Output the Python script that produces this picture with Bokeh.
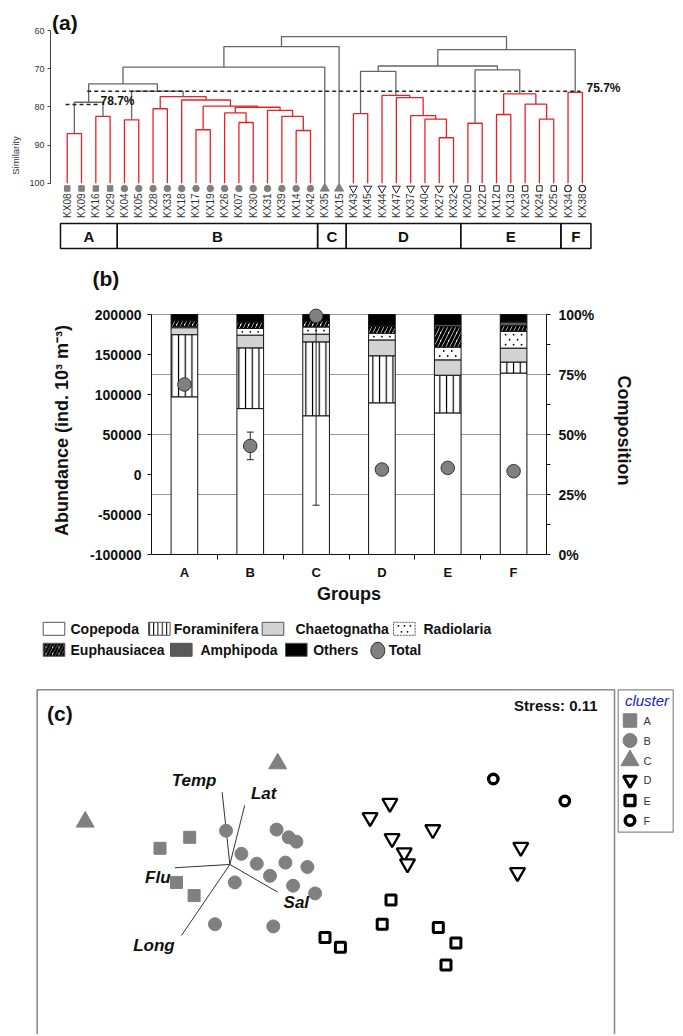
import numpy as np
from bokeh.plotting import figure
from bokeh.models import Range1d, LinearAxis, FixedTicker, NumeralTickFormatter, PrintfTickFormatter
from bokeh.layouts import column
from bokeh.embed import file_html
from bokeh.resources import INLINE
from bokeh.core.properties import value

FONT = "Liberation Sans"
RED = "#ec2024"
DGRAY = "#666666"
MGRAY = "#808080"
W = 680

# ------------------------------------------------------------------ data (a)
leaf_names = ["KX08", "KX09", "KX16", "KX29", "KX04", "KX05", "KX28", "KX33", "KX18",
              "KX17", "KX19", "KX26", "KX07", "KX30", "KX31", "KX39", "KX14", "KX42",
              "KX35", "KX15", "KX43", "KX45", "KX44", "KX47", "KX37", "KX40", "KX27",
              "KX32", "KX20", "KX22", "KX12", "KX13", "KX23", "KX24", "KX25", "KX34", "KX38"]
leaf_groups = list("AAAA" + "B" * 14 + "CC" + "D" * 8 + "E" * 7 + "FF")
# merges: node ids < 37 are leaves, 37+k is the k-th merge
merge_left = [0, 2, 37, 4, 6, 9, 12, 11, 16, 15, 14, 44, 42, 8, 41, 40, 39, 53, 54,
              20, 26, 25, 24, 23, 22, 56, 28, 30, 33, 32, 64, 63, 62, 35, 69, 55]
merge_right = [1, 3, 38, 5, 7, 10, 13, 43, 17, 45, 46, 47, 48, 49, 50, 51, 52, 18, 19,
               21, 27, 57, 58, 59, 60, 61, 29, 31, 34, 65, 66, 67, 68, 36, 70, 71]
merge_sim = [87.0, 82.5, 78.8, 83.4, 80.5, 86.0, 84.1, 81.6, 86.2, 82.5, 80.9, 80.1,
             79.8, 78.2, 77.3, 75.9, 74.0, 69.6, 64.2, 81.8, 88.1, 83.2, 82.3, 77.6,
             77.0, 70.7, 84.3, 82.0, 83.2, 79.3, 76.6, 70.3, 69.3, 76.2, 65.0, 61.6]
merge_within = [1, 1, 0, 1, 1, 1, 1, 1, 1, 1, 1, 1, 1, 1, 1, 0, 0, 0, 0,
                1, 1, 1, 1, 1, 1, 0, 1, 1, 1, 1, 1, 0, 0, 1, 0, 0]
cut_levels = [79.4, 75.9]
cut_labels = ["78.7%", "75.7%"]
sim_ticks = [60, 70, 80, 90, 100]

# ------------------------------------------------------------------ data (b)
groups = ["A", "B", "C", "D", "E", "F"]
taxa = ["Copepoda", "Foraminifera", "Chaetognatha", "Radiolaria",
        "Euphausiacea", "Amphipoda", "Others"]
comp_copepoda = [65.7, 60.8, 57.8, 63.2, 59.0, 75.6]
comp_foraminifera = [25.9, 25.3, 30.8, 19.6, 15.7, 4.6]
comp_chaetognatha = [2.9, 5.3, 3.2, 6.6, 6.4, 5.8]
comp_radiolaria = [0.6, 2.8, 3.0, 2.8, 5.3, 7.0]
comp_euphausiacea = [2.3, 2.5, 2.6, 2.9, 8.5, 2.3]
comp_amphipoda = [0.2, 0.2, 0.2, 0.4, 0.9, 1.6]
comp_others = [2.4, 3.1, 2.4, 4.5, 4.2, 3.1]
total_abundance = [112500, 35750, 198300, 6250, 8250, 4125]
total_sd = [4000, 17250, 236700, 2000, 2500, 1500]
abund_ticks = [-100000, -50000, 0, 50000, 100000, 150000, 200000]
pct_ticks = [0, 25, 50, 75, 100]
pct_minor = [12.5, 37.5, 62.5, 87.5]

# ------------------------------------------------------------------ data (c)
nmds_A_x = [-1.28, -1.55, -1.40, -1.24]
nmds_A_y = [0.12, 0.02, -0.29, -0.41]
nmds_B_x = [-0.95, -0.49, -0.38, -0.31, -0.81, -0.67, -0.41, -0.21, -0.55, -0.87,
            -0.34, -0.14, -1.05, -0.52]
nmds_B_y = [0.18, 0.19, 0.12, 0.08, -0.03, -0.12, -0.11, -0.15, -0.23, -0.29,
            -0.32, -0.39, -0.67, -0.69]
nmds_C_x = [-0.48, -2.23]
nmds_C_y = [0.79, 0.26]
nmds_D_x = [0.54, 0.36, 0.93, 0.56, 0.67, 0.70, 1.73, 1.70]
nmds_D_y = [0.43, 0.30, 0.19, 0.11, -0.02, -0.12, 0.03, -0.20]
nmds_E_x = [0.55, 0.47, 0.98, 1.14, 1.05, -0.05, 0.09]
nmds_E_y = [-0.45, -0.67, -0.70, -0.84, -1.04, -0.79, -0.88]
nmds_F_x = [1.48, 2.13]
nmds_F_y = [0.65, 0.45]
env_vars = ["Temp", "Lat", "Flu", "Sal", "Long"]
env_origin_x = -0.915
env_origin_y = -0.127
env_end_x = [-0.985, -0.78, -1.415, -0.479, -1.355]
env_end_y = [0.53, 0.41, -0.157, -0.379, -0.773]
stress_value = 0.11

# ================================================================== panel (a)
X0, PXU = 66.7, 14.31      # page px of first leaf, px per leaf
SY = 3.8175                # px per similarity unit, 60 at page y 30


def ax(px):
    return (px - X0) / PXU


def ay(py):
    return 60 + (py - 30) / SY


pa = figure(width=W, height=300, output_backend="svg", toolbar_location=None,
            x_range=Range1d(ax(50), ax(670)), y_range=Range1d(ay(300), ay(10)),
            x_axis_location=None, min_border_left=50, min_border_right=W - 670,
            min_border_top=10, min_border_bottom=0, frame_align=False)
pa.grid.visible = False
pa.outline_line_color = None
ya = pa.yaxis[0]
ya.ticker = FixedTicker(ticks=sim_ticks)
ya.bounds = (60, 100)
ya.axis_label = "Similarity"
ya.axis_label_text_font = FONT
ya.axis_label_text_font_size = "9.5px"
ya.axis_label_text_font_style = "normal"
ya.axis_label_text_color = "#333333"
ya.axis_label_standoff = 5
ya.major_label_text_font = FONT
ya.major_label_text_font_size = "9px"
ya.major_label_text_color = "#333333"
ya.major_label_standoff = 3
ya.major_tick_out = 3
ya.major_tick_in = 0
ya.axis_line_color = "#444444"
ya.major_tick_line_color = "#444444"

n = len(leaf_names)
node_x = list(range(n))
node_h = [100.0] * n
xs, ys, cols = [], [], []
for l, r, s, w in zip(merge_left, merge_right, merge_sim, merge_within):
    x1, x2 = node_x[l], node_x[r]
    h1, h2 = node_h[l], node_h[r]
    xs.append([x1, x1, x2, x2])
    ys.append([h1, s, s, h2])
    cols.append(RED if w else DGRAY)
    node_x.append((x1 + x2) / 2)
    node_h.append(s)
pa.multi_line(xs=xs, ys=ys, line_color=cols, line_width=1.3)

# cut lines
pa.segment(x0=[ax(65), ax(86.7)], x1=[ax(100), ax(580)], y0=cut_levels, y1=cut_levels,
           line_color="#222222", line_width=1.5, line_dash="4 3")
pa.text(x=[ax(100), ax(586)], y=[ay(100.5), ay(87.3)], text=cut_labels,
        text_font=value(FONT), text_font_style="bold", text_font_size="12px",
        text_baseline="middle", text_align="left", text_color="#111111")

leaf_style = {
    "A": dict(marker="square", size=5.5, fill_color=MGRAY, line_color=MGRAY),
    "B": dict(marker="circle", size=6.5, fill_color=MGRAY, line_color=MGRAY),
    "C": dict(marker="triangle", size=9, fill_color=MGRAY, line_color=MGRAY),
    "D": dict(marker="inverted_triangle", size=8, fill_color="white", line_color="#222222", line_width=1),
    "E": dict(marker="square", size=5.5, fill_color="white", line_color="#222222", line_width=1),
    "F": dict(marker="circle", size=6.5, fill_color="white", line_color="#222222", line_width=1.2),
}
leaf_idx = np.arange(n)
lg = np.array(leaf_groups)
for g in groups:
    sel = leaf_idx[lg == g]
    pa.scatter(x=sel, y=[ay(188)] * len(sel), **leaf_style[g])

pa.text(x=leaf_idx, y=[ay(193)] * n, text=leaf_names, angle=np.pi / 2,
        text_align="right", text_baseline="middle", text_font=value(FONT),
        text_font_size="10px", text_color="#333333")

counts = [leaf_groups.count(g) for g in groups]
edges = np.concatenate([[0], np.cumsum(counts)]) - 0.5
edges[0] = -0.47
edges[-1] = n - 1 + 0.6
pa.quad(left=edges[:-1], right=edges[1:], top=[ay(223)] * 6, bottom=[ay(248)] * 6,
        fill_color=None, line_color="#111111", line_width=1.5)
pa.text(x=(edges[:-1] + edges[1:]) / 2, y=[ay(236)] * 6, text=groups,
        text_align="center", text_baseline="middle", text_font=value(FONT),
        text_font_style="bold", text_font_size="15px", text_color="#111111")

pa.text(x=[ax(51.5), ax(92)], y=[ay(21.5), ay(278)], text=["(a)", "(b)"],
        text_align="left", text_baseline="middle", text_font=value(FONT),
        text_font_style="bold", text_font_size="21px", text_color="#111111")

# ================================================================== panel (b)
PX_PER_ABUND = 240 / 300000.0     # frame px per abundance unit
EXTRA = 8                          # px of head-room above the 100 % line
ab_max = abund_ticks[-1] + EXTRA / PX_PER_ABUND
pct_max = 100 + EXTRA / 2.4
pb = figure(width=W, height=314, output_backend="svg", toolbar_location=None,
            x_range=Range1d(0, 6), y_range=Range1d(abund_ticks[0], ab_max),
            min_border_left=151, min_border_right=W - 151 - 395, min_border_top=14 - EXTRA,
            min_border_bottom=60, frame_align=False)
pb.extra_y_ranges = {"pct": Range1d(0, pct_max)}
pb.outline_line_color = None
pb.xgrid.visible = False
pb.ygrid.ticker = FixedTicker(ticks=[-25000, 50000, 125000, 200000])
pb.ygrid.grid_line_color = "#9a9a9a"
pb.ygrid.grid_line_width = 1

yl = pb.yaxis[0]
yl.ticker = FixedTicker(ticks=abund_ticks)
yl.formatter = NumeralTickFormatter(format="0")
yl.axis_label = "Abundance (ind. 10\u00b3 m\u207b\u00b3)"
yl.bounds = (abund_ticks[0], abund_ticks[-1])

yr = LinearAxis(y_range_name="pct",
                ticker=FixedTicker(ticks=pct_ticks, minor_ticks=pct_minor),
                formatter=PrintfTickFormatter(format="%d%%"),
                axis_label="Composition", bounds=(0, 100))
pb.add_layout(yr, "right")

xa = pb.xaxis[0]
centers = np.arange(len(groups)) + 0.5
xa.ticker = FixedTicker(ticks=list(centers), minor_ticks=list(np.arange(1, len(groups))))
xa.major_label_overrides = {float(c): g for c, g in zip(centers, groups)}
xa.axis_label = "Groups"
xa.major_tick_out = 0
xa.major_tick_in = 0
xa.minor_tick_out = 5
xa.minor_tick_in = 0
xa.major_label_standoff = 5
xa.axis_label_standoff = 1

for axis in (yl, yr, xa):
    axis.axis_label_text_font = FONT
    axis.axis_label_text_font_style = "bold"
    axis.axis_label_text_font_size = "18px"
    axis.axis_label_text_color = "#111111"
    axis.major_label_text_font = FONT
    axis.major_label_text_font_style = "bold"
    axis.major_label_text_font_size = "14px"
    axis.major_label_text_color = "#111111"
    axis.axis_line_color = "#111111"
    axis.major_tick_line_color = "#111111"
    axis.minor_tick_line_color = "#111111"
xa.major_label_text_font_size = "13px"
yl.major_tick_out = 4
yl.major_tick_in = 0
yl.major_label_standoff = 6
yl.axis_label_standoff = 15
yr.major_tick_out = 4
yr.major_tick_in = 0
yr.minor_tick_out = 4
yr.minor_tick_in = 0
yr.major_label_standoff = 8
yr.axis_label_standoff = 17

taxon_style = {
    "Copepoda": dict(fill_color="white"),
    "Foraminifera": dict(fill_color="white", hatch_pattern="|", hatch_scale=6.7,
                         hatch_weight=1.2, hatch_color="black"),
    "Chaetognatha": dict(fill_color="#d3d3d3"),
    "Radiolaria": dict(fill_color="white"),
    "Euphausiacea": dict(fill_color="white", hatch_pattern="/", hatch_scale=8,
                         hatch_weight=3, hatch_color="black"),
    "Amphipoda": dict(fill_color="#595959"),
    "Others": dict(fill_color="black"),
}
comp = dict(zip(taxa, [comp_copepoda, comp_foraminifera, comp_chaetognatha,
                       comp_radiolaria, comp_euphausiacea, comp_amphipoda, comp_others]))
BAR_W = 0.405
bottom = np.zeros(len(groups))
seg_bounds = {}
for t in taxa:
    top = bottom + np.array(comp[t])
    seg_bounds[t] = (bottom.copy(), top.copy())
    pb.vbar(x=centers, width=BAR_W, bottom=bottom, top=top, y_range_name="pct",
            line_color="#111111", line_width=1, **taxon_style[t])
    bottom = top

# sparse dot texture for Radiolaria segments (fine stippling)
PX_X = 395 / 6.0      # px per category unit
ROW_PX = 5.0
dots_x, dots_y = [], []
rb, rt = seg_bounds["Radiolaria"]
for c, b, t in zip(centers, rb, rt):
    nrows = int((t - b) * 2.4 // ROW_PX)
    for k in range(nrows):
        yk = b + (k + 0.5) * ROW_PX / 2.4 + ((t - b) - nrows * ROW_PX / 2.4) / 2
        offs = [-8, 0, 8] if k % 2 == 0 else [-4, 4]
        for o in offs:
            dots_x.append(c + o / PX_X)
            dots_y.append(yk)
pb.scatter(x=dots_x, y=dots_y, y_range_name="pct", marker="circle", size=1.8,
           fill_color="black", line_color=None)

tot = np.array(total_abundance, dtype=float)
sd = np.array(total_sd, dtype=float)
upper = tot + sd
pb.segment(x0=centers, x1=centers, y0=tot - sd, y1=np.minimum(upper, abund_ticks[-1]),
           line_color="#222222", line_width=1)
cap_y = np.concatenate([tot - sd, upper[upper <= abund_ticks[-1]]])
cap_x = np.concatenate([centers, centers[upper <= abund_ticks[-1]]])
pb.scatter(x=cap_x, y=cap_y, marker="dash", size=7, line_color="#222222", line_width=1)
pb.scatter(x=centers, y=tot, size=13.5, fill_color=MGRAY, line_color="#333333", line_width=1)

# ================================================================== legend (b)
pl = figure(width=W, height=54, output_backend="svg", toolbar_location=None,
            x_range=Range1d(0, W), y_range=Range1d(668, 614), min_border=0,
            x_axis_location=None, y_axis_location=None, frame_align=False)
pl.outline_line_color = None
pl.grid.visible = False
legend_b_pos = {  # box left, text left, row centre (page px)
    "Copepoda": (42.7, 70, 628.3), "Foraminifera": (148, 173.3, 628.3),
    "Chaetognatha": (261.7, 295, 628.3), "Radiolaria": (393, 423, 628.3),
    "Euphausiacea": (42.7, 70, 649.3), "Amphipoda": (170, 200, 649.3),
    "Others": (285, 312.7, 649.3),
}
for t in taxa:
    bx, tx, cy_ = legend_b_pos[t]
    st = dict(taxon_style[t])
    if t == "Foraminifera":
        st["hatch_scale"] = 4.3
        st["hatch_weight"] = 1
    if t == "Euphausiacea":
        st["hatch_scale"] = 6.5
        st["hatch_weight"] = 2.6
    pl.quad(left=[bx], right=[bx + 21.6], top=[cy_ - 6.5], bottom=[cy_ + 6.5],
            line_color="#555555", line_width=1,
            line_dash="2 1" if t == "Radiolaria" else "solid", **st)
    if t == "Radiolaria":
        lx = [bx + 5, bx + 11, bx + 17, bx + 8, bx + 14]
        ly = [cy_ - 3, cy_ - 3, cy_ - 3, cy_ + 3, cy_ + 3]
        pl.scatter(x=lx, y=ly, marker="circle", size=1.8, fill_color="black", line_color=None)
    pl.text(x=[tx], y=[cy_ + 0.5], text=[t], text_baseline="middle", text_align="left",
            text_font=value(FONT), text_font_style="bold", text_font_size="14px",
            text_color="#111111")
pl.ellipse(x=[377.3], y=[650], width=[14], height=[16.5], fill_color=MGRAY,
           line_color="#333333", line_width=1)
pl.text(x=[388.3], y=[649.8], text=["Total"], text_baseline="middle", text_align="left",
        text_font=value(FONT), text_font_style="bold", text_font_size="14px",
        text_color="#111111")

# ================================================================== panel (c)
def cx(px):
    return (px - 330) / 110


def cy(py):
    return (850 - py) / 110


pc = figure(width=W, height=366, output_backend="svg", toolbar_location=None,
            x_range=Range1d(cx(0), cx(W)), y_range=Range1d(cy(1034), cy(668)),
            min_border=0, x_axis_location=None, y_axis_location=None, frame_align=False)
pc.outline_line_color = None
pc.grid.visible = False

pc.multi_line(xs=[[cx(36.7), cx(36.7), cx(614), cx(614)]],
              ys=[[cy(1050), cy(689.3), cy(689.3), cy(1050)]],
              line_color="#8a8a8a", line_width=1.6)
pc.quad(left=[cx(617.7)], right=[cx(672.7)], top=[cy(689.3)], bottom=[cy(831.7)],
        fill_color=None, line_color="#8a8a8a", line_width=1.2)

pc.segment(x0=[env_origin_x] * len(env_vars), y0=[env_origin_y] * len(env_vars),
           x1=env_end_x, y1=env_end_y, line_color="#333333", line_width=1)

nmds_style = {
    "A": dict(marker="square", size=12, fill_color=MGRAY, line_color=MGRAY),
    "B": dict(marker="circle", size=13, fill_color=MGRAY, line_color=MGRAY),
    "C": dict(marker="triangle", size=18, fill_color=MGRAY, line_color=MGRAY),
    "D": dict(marker="inverted_triangle", size=15, fill_color="white", line_color="black", line_width=2.3),
    "E": dict(marker="square", size=10, fill_color="white", line_color="black", line_width=3),
    "F": dict(marker="circle", size=9.5, fill_color="white", line_color="black", line_width=3.3),
}
nmds = {"A": (nmds_A_x, nmds_A_y), "B": (nmds_B_x, nmds_B_y), "C": (nmds_C_x, nmds_C_y),
        "D": (nmds_D_x, nmds_D_y), "E": (nmds_E_x, nmds_E_y), "F": (nmds_F_x, nmds_F_y)}
for g in groups:
    gx, gy = nmds[g]
    pc.scatter(x=gx, y=gy, **nmds_style[g])

label_dx = [-28, 19, -17, 18.5, -27.5]
label_dy = [-12, -12, 9.5, 10, 10]
pc.text(x=env_end_x, y=env_end_y, text=env_vars, x_offset=label_dx, y_offset=label_dy,
        text_align="center", text_baseline="middle", text_font=value(FONT),
        text_font_style="bold italic", text_font_size="17px", text_color="#111111")

pc.text(x=[cx(46.5)], y=[cy(713)], text=["(c)"], text_align="left", text_baseline="middle",
        text_font=value(FONT), text_font_style="bold", text_font_size="21px",
        text_color="#111111")
pc.text(x=[cx(597)], y=[cy(705)], text=["Stress: %.2f" % stress_value], text_align="right",
        text_baseline="middle", text_font=value(FONT), text_font_style="bold",
        text_font_size="15px", text_color="#111111")

# legend (c)
pc.text(x=[cx(646.5)], y=[cy(699.5)], text=["cluster"], text_align="center",
        text_baseline="middle", text_font=value(FONT), text_font_style="italic",
        text_font_size="15px", text_color="#2020d0")
leg_style = {
    "A": dict(marker="square", size=13.5, fill_color=MGRAY, line_color=MGRAY),
    "B": dict(marker="circle", size=14, fill_color=MGRAY, line_color=MGRAY),
    "C": dict(marker="triangle", size=18, fill_color=MGRAY, line_color=MGRAY),
    "D": dict(marker="inverted_triangle", size=13, fill_color="white", line_color="black", line_width=3),
    "E": dict(marker="square", size=10, fill_color="white", line_color="black", line_width=3.3),
    "F": dict(marker="circle", size=9.5, fill_color="white", line_color="black", line_width=3.5),
}
leg_rows = [720, 740, 760, 779.5, 800, 820]
for g, ry in zip(groups, leg_rows):
    pc.scatter(x=[cx(629.5)], y=[cy(ry)], **leg_style[g])
pc.text(x=[cx(643)] * 6, y=[cy(r) for r in leg_rows], text=groups, text_align="left",
        text_baseline="middle", text_font=value(FONT), text_font_size="11px",
        text_color="#333333")

layout = column(pa, pb, pl, pc)
open("out.html", "w").write(file_html(layout, INLINE))
